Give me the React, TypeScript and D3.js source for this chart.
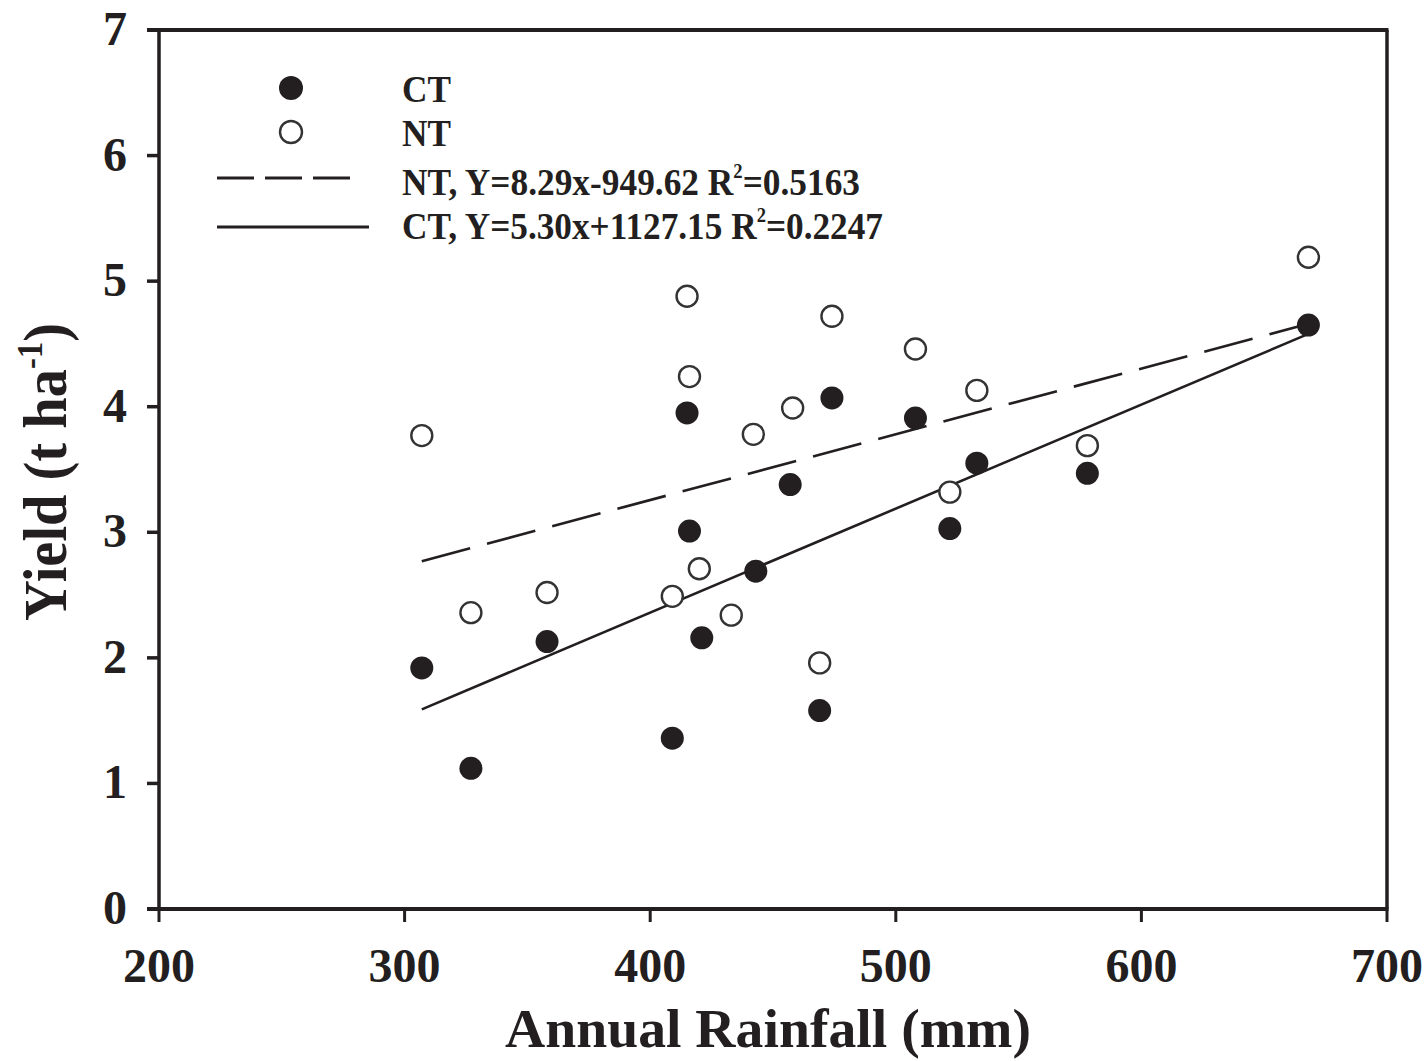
import React from "react";
import * as d3 from "d3";

// Data (x: annual rainfall mm, y: yield t/ha)
const ctRain = [307, 327, 358, 409, 415, 416, 421, 443, 457, 469, 474, 508, 522, 533, 578, 668];
const ctYield = [1.92, 1.12, 2.13, 1.36, 3.95, 3.01, 2.16, 2.69, 3.38, 1.58, 4.07, 3.91, 3.03, 3.55, 3.47, 4.65];
const ntRain = [307, 327, 358, 409, 415, 416, 420, 433, 442, 458, 469, 474, 508, 522, 533, 578, 668];
const ntYield = [3.77, 2.36, 2.52, 2.49, 4.88, 4.24, 2.71, 2.34, 3.78, 3.99, 1.96, 4.72, 4.46, 3.32, 4.13, 3.69, 5.19];
// Fitted lines as drawn (end points)
const dashedLine: [number, number][] = [[307, 2.77], [668, 4.66]];
const solidLine: [number, number][] = [[307, 1.59], [668, 4.58]];

const xTicks = [200, 300, 400, 500, 600, 700];
const yTicks = [0, 1, 2, 3, 4, 5, 6, 7];

const legendLabels = ["CT", "NT"];
const eqNT = { name: "NT, Y=8.29x-949.62 R", sup: "2", tail: "=0.5163" };
const eqCT = { name: "CT, Y=5.30x+1127.15 R", sup: "2", tail: "=0.2247" };

const INK = "#231f20";
const FONT = "'Liberation Serif', 'Times New Roman', serif";

export default function App() {
  const left = 159, right = 1387, top = 30, bottom = 909;
  const x = d3.scaleLinear().domain([200, 700]).range([left, right]);
  const y = d3.scaleLinear().domain([0, 7]).range([bottom, top]);
  const line = d3.line<[number, number]>().x(d => x(d[0])).y(d => y(d[1]));

  const ct = ctRain.map((r, i) => [r, ctYield[i]]);
  const nt = ntRain.map((r, i) => [r, ntYield[i]]);

  return (
    <svg width={1428} height={1061} style={{ position: "absolute", left: 0, top: 0, display: "block" }}>
      <rect x={0} y={0} width={1428} height={1061} fill="#fff" />
      {/* frame */}
      <line x1={147} x2={right + 1.5} y1={top} y2={top} stroke={INK} strokeWidth={4} />
      <line x1={147} x2={right + 1.5} y1={bottom} y2={bottom} stroke={INK} strokeWidth={4} />
      <line x1={left} x2={left} y1={top} y2={bottom} stroke={INK} strokeWidth={3.5} />
      <line x1={right} x2={right} y1={top} y2={bottom} stroke={INK} strokeWidth={3.5} />
      {/* y ticks */}
      {yTicks.map(t => (
        <g key={"y" + t}>
          <line x1={147} x2={left} y1={y(t)} y2={y(t)} stroke={INK} strokeWidth={3.5} />
          <text x={127} y={y(t) + 15} textAnchor="end" fontFamily={FONT} fontWeight="bold"
            fontSize={48} fill={INK}>{t}</text>
        </g>
      ))}
      {/* x ticks */}
      {xTicks.map(t => (
        <g key={"x" + t}>
          <line x1={x(t)} x2={x(t)} y1={bottom} y2={bottom + 13} stroke={INK} strokeWidth={3} />
          <text x={x(t)} y={982} textAnchor="middle" fontFamily={FONT} fontWeight="bold"
            fontSize={48} fill={INK}>{t}</text>
        </g>
      ))}
      {/* axis titles */}
      <text x={768} y={1047} textAnchor="middle" fontFamily={FONT} fontWeight="bold"
        fontSize={54} fill={INK} textLength={526} lengthAdjust="spacingAndGlyphs">Annual Rainfall (mm)</text>
      <text transform="translate(66,472) rotate(-90)" textAnchor="middle" fontFamily={FONT}
        fontWeight="bold" fontSize={62} fill={INK} textLength={298} lengthAdjust="spacingAndGlyphs">
        Yield (t ha<tspan fontSize={36} dy={-24}>-1</tspan><tspan dy={24}>)</tspan>
      </text>
      {/* fitted lines */}
      <path d={line(dashedLine) || ""} fill="none" stroke={INK} strokeWidth={2.6} strokeDasharray="50 17.5" />
      <path d={line(solidLine) || ""} fill="none" stroke={INK} strokeWidth={2.6} />
      {/* points */}
      {nt.map((d, i) => (
        <circle key={"nt" + i} cx={x(d[0])} cy={y(d[1])} r={10.5} fill="#fff" stroke="#333" strokeWidth={2.4} />
      ))}
      {ct.map((d, i) => (
        <circle key={"ct" + i} cx={x(d[0])} cy={y(d[1])} r={11.5} fill={INK} />
      ))}
      {/* legend */}
      <circle cx={291} cy={88} r={12} fill={INK} />
      <circle cx={291} cy={132} r={11} fill="#fff" stroke="#333" strokeWidth={2.4} />
      <line x1={217} x2={351} y1={178} y2={178} stroke={INK} strokeWidth={3} strokeDasharray="37 11" />
      <line x1={217} x2={369} y1={227} y2={227} stroke={INK} strokeWidth={3} />
      <text x={402} y={102} fontFamily={FONT} fontWeight="bold" fontSize={38} fill={INK}
        textLength={49} lengthAdjust="spacingAndGlyphs">{legendLabels[0]}</text>
      <text x={402} y={146} fontFamily={FONT} fontWeight="bold" fontSize={38} fill={INK}
        textLength={49} lengthAdjust="spacingAndGlyphs">{legendLabels[1]}</text>
      <text x={402} y={195} fontFamily={FONT} fontWeight="bold" fontSize={38} fill={INK}
        textLength={458} lengthAdjust="spacingAndGlyphs">
        {eqNT.name}<tspan fontSize={20} dy={-17}>{eqNT.sup}</tspan><tspan dy={17}>{eqNT.tail}</tspan>
      </text>
      <text x={402} y={239} fontFamily={FONT} fontWeight="bold" fontSize={38} fill={INK}
        textLength={481} lengthAdjust="spacingAndGlyphs">
        {eqCT.name}<tspan fontSize={20} dy={-17}>{eqCT.sup}</tspan><tspan dy={17}>{eqCT.tail}</tspan>
      </text>
    </svg>
  );
}
